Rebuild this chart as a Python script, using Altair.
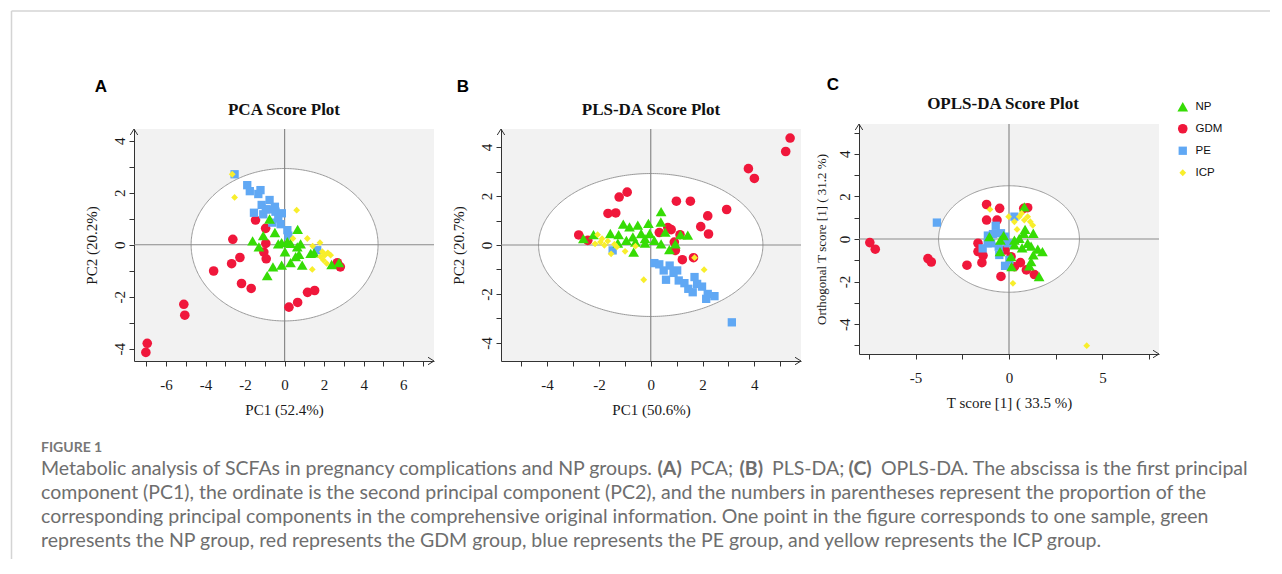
import altair as alt
import pandas as pd

# ---------------- groups ----------------
GROUPS = ["NP", "GDM", "PE", "ICP"]
GROUP_COLORS = ["#36dc05", "#f0173b", "#60a8f4", "#f8ee2b"]
GROUP_SHAPES = ["triangle-up", "circle", "square", "diamond"]
DRAW_ORDER = ["GDM", "PE", "NP", "ICP"]

# ---------------- Panel A: PCA scores ----------------
A_GDM_X = [-6.95, -7.02, -5.10, -5.05, -3.59, -2.68, -2.62, -2.26, -2.18, -1.69, -1.47, -0.96, -0.95, -1.05, -0.93, 0.22, 0.66, 1.16, 1.52, 2.67, 2.82]
A_GDM_Y = [-3.79, -4.14, -2.29, -2.71, -1.01, -0.73, 0.21, -0.49, -1.49, -1.68, 0.95, 0.63, 0.05, -0.28, -0.54, -2.40, -2.22, -1.83, -1.76, -0.69, -0.85]
A_PE_X = [-2.53, -1.89, -1.76, -1.22, -1.33, -1.55, -1.16, -0.76, -0.78, -0.46, -0.14, -1.08, -0.62, -0.32, -0.20, 0.14, 0.19, -0.49, 1.65, -0.95]
A_PE_Y = [2.71, 2.29, 2.06, 2.10, 1.95, 1.23, 1.53, 1.72, 1.36, 1.27, 1.21, 1.17, 0.85, 1.01, 0.79, 0.56, 0.35, 1.46, -0.21, 1.36]
A_NP_X = [-0.76, -1.08, -1.62, -1.30, -0.49, -0.32, 0.02, 0.14, -0.15, 0.66, 0.81, 0.64, 0.73, 0.30, 0.56, -0.59, -0.15, -0.88, 0.89, 1.32, 1.49, 2.38, 2.75, 0.30]
A_NP_Y = [0.99, 0.35, 0.15, -0.08, 0.47, 0.03, -0.27, 0.12, 0.08, 0.59, 0.03, -0.08, -0.37, -0.69, -0.46, -0.85, -0.78, -1.19, -0.78, -0.33, -0.31, -0.76, -0.69, 0.05]
A_ICP_X = [-2.65, -2.53, 0.61, 1.15, 1.79, 0.42, 1.42, 1.40, 1.91, 2.04, 2.19, 2.33, 1.96, 2.13, 1.82]
A_ICP_Y = [2.71, 1.82, 1.33, 0.24, 0.08, 0.24, -0.05, -0.95, -0.27, -0.40, -0.31, -0.40, -0.59, -0.72, -0.46]

# ---------------- Panel B: PLS-DA scores ----------------
B_GDM_X = [5.38, 5.21, 3.77, 4.00, -0.91, -1.22, -1.35, -1.65, -2.78, -2.43, 0.99, 1.53, 2.93, 2.20, 1.93, 2.23, 0.33, 0.66, 0.79, 1.13, 0.91, 0.95, 1.22, 1.65]
B_GDM_Y = [4.37, 3.82, 3.12, 2.72, 2.16, 1.96, 1.31, 1.29, 0.41, 0.19, 1.79, 1.79, 1.45, 1.19, 0.75, 0.45, 0.51, 0.71, 0.63, 0.42, 0.12, -0.22, -0.60, -0.52]
B_PE_X = [-1.47, 0.14, 0.33, 0.73, 0.50, 0.59, 1.02, 1.08, 1.30, 1.69, 1.79, 1.45, 1.62, 1.98, 2.20, 2.46, 2.14, 3.13, 0.88]
B_PE_Y = [-0.22, -0.74, -0.79, -0.84, -1.04, -1.42, -1.04, -1.45, -1.56, -1.31, -1.59, -1.79, -1.93, -1.70, -2.00, -2.09, -2.20, -3.16, -1.14]
B_NP_X = [-2.60, -2.21, -1.56, -1.24, -1.06, -0.82, -0.50, -0.09, -0.04, -0.22, -0.69, -0.94, -0.59, -0.22, 0.14, 0.40, 0.39, 0.56, 0.40, 0.72, 0.95, 1.15, 1.43, -0.66, -1.27, -0.37]
B_NP_Y = [0.26, 0.42, 0.47, 0.42, 0.85, 0.74, 0.81, 0.88, 0.47, 0.26, 0.33, 0.19, 0.12, 0.08, 0.19, 1.36, 0.94, 0.53, 0.05, -0.19, 0.05, 0.42, 0.40, -0.29, 0.08, 0.47]
B_ICP_X = [-2.05, -2.15, -1.94, -1.79, -1.66, -1.40, -1.53, -1.31, -0.99, -0.59, -0.27, 1.69, 2.06, -1.88]
B_ICP_Y = [0.42, 0.05, 0.12, -0.01, 0.16, 0.03, -0.36, -0.08, -0.26, -0.05, -1.42, -0.52, -1.01, 0.26]

# ---------------- Panel C: OPLS-DA scores ----------------
C_GDM_X = [-7.45, -7.16, -4.34, -4.16, -2.25, -1.66, -1.66, -1.39, -1.45, -1.20, -1.20, -0.50, -0.64, -0.43, 0.11, 0.29, 0.61, 0.93, 1.36, 0.79, 1.00, -0.21]
C_GDM_Y = [-0.17, -0.48, -0.92, -1.08, -1.23, -0.20, -0.59, -0.78, -1.11, 1.62, 0.89, 1.44, 0.89, -1.76, -0.83, -1.30, -1.11, -1.45, -1.67, 1.44, 1.47, -0.52]
C_PE_X = [-3.86, -0.71, -1.13, -0.86, -0.43, -0.21, -0.96, -1.41, -0.55, -0.07, -0.52, -0.21, 0.02, 0.29, -1.14]
C_PE_Y = [0.77, 0.62, 0.16, 0.23, 0.27, 0.11, -0.20, -0.44, -0.36, -0.20, -0.75, -1.26, -0.98, 1.05, -0.20]
C_NP_X = [-1.05, -0.46, -0.29, -0.48, 0.29, 0.55, 0.79, 0.86, 1.30, 0.70, 1.18, 1.54, 1.79, 1.30, 1.18, 1.09, 0.11, 0.14, 1.61, 0.82, 1.00, 0.29]
C_NP_Y = [0.11, -0.05, 0.16, -0.59, -0.28, 0.03, 0.27, 0.45, 0.27, -0.41, -0.33, -0.48, -0.59, -0.75, -1.06, -1.26, -0.83, -1.30, -1.76, 1.51, -0.20, -0.05]
C_ICP_X = [-1.02, -0.02, 0.29, 0.55, 0.82, 1.14, 1.27, 0.43, 0.68, 0.21, 4.16, 1.00]
C_ICP_Y = [1.39, 1.05, 0.81, 1.05, 0.89, 0.81, 0.64, 0.45, 1.20, -2.08, -5.01, 1.05]

# ---------------- axes / ellipses ----------------
A_XDOM, A_YDOM = [-7.62, 7.56], [-4.47, 4.45]
B_XDOM, B_YDOM = [-5.78, 5.80], [-4.74, 4.74]
C_XDOM, C_YDOM = [-8.03, 8.03], [-5.40, 5.40]
A_XTICKS, A_XLABELS = [-7, -6, -5, -4, -3, -2, -1, 0, 1, 2, 3, 4, 5, 6, 7], [-6, -4, -2, 0, 2, 4, 6]
A_YTICKS, A_YLABELS = [-4, -3, -2, -1, 0, 1, 2, 3, 4], [-4, -2, 0, 2, 4]
B_XTICKS, B_XLABELS = [-5, -4, -3, -2, -1, 0, 1, 2, 3, 4, 5], [-4, -2, 0, 2, 4]
B_YTICKS, B_YLABELS = [-4, -3, -2, -1, 0, 1, 2, 3, 4], [-4, -2, 0, 2, 4]
C_XTICKS, C_XLABELS = [-7.5, -5, -2.5, 0, 2.5, 5, 7.5], [-5, 0, 5]
C_YTICKS, C_YLABELS = [-5, -4, -3, -2, -1, 0, 1, 2, 3, 4, 5], [-4, -2, 0, 2, 4]
A_ELLIPSE = [4.73, 2.93]
B_ELLIPSE = [4.33, 2.92]
C_ELLIPSE = [3.77, 2.50]

CAPTION_LINES = [
    "component (PC1), the ordinate is the second principal component (PC2), and the numbers in parentheses represent the proportion of the",
    "corresponding principal components in the comprehensive original information. One point in the figure corresponds to one sample, green",
    "represents the NP group, red represents the GDM group, blue represents the PE group, and yellow represents the ICP group.",
]
CAPTION_FIRST = [
    ("Metabolic analysis of SCFAs in pregnancy complications and NP groups.", "normal", 0),
    ("(A)", "bold", 616.5),
    ("PCA;", "normal", 649),
    ("(B)", "bold", 698.5),
    ("PLS-DA;", "normal", 731),
    ("(C)", "bold", 807.5),
    ("OPLS-DA. The abscissa is the first principal", "normal", 840),
]

SERIF = "Liberation Serif"
SANS = "Liberation Sans"
CAP_FONT = "Lato"
INK = "#1a1a1a"
ONE = pd.DataFrame({"k": [0]})
ZERO = pd.DataFrame({"z": [0]})


def points_frame(pts):
    rows = []
    for g in DRAW_ORDER:
        xs, ys = pts[g]
        for x, y in zip(xs, ys):
            rows.append({"group": g, "x": x, "y": y})
    return pd.DataFrame(rows)


def txt(text, x, y, **kw):
    return alt.Chart(ONE).mark_text(**kw).encode(
        x=alt.value(x), y=alt.value(y), text=alt.value(text))


LEGEND = alt.Legend(orient="none", legendX=1043, legendY=-23, title=None,
                    labelFont=SANS, labelFontSize=11.5, labelColor="#111",
                    labelOffset=7, rowPadding=9, padding=0, symbolStrokeWidth=0)


def panel(df, w, h, xdom, ydom, xticks, xlabels, yticks, ylabels,
          xtitle, ytitle, ytsize, ytpad, ell, extras):
    xsc = alt.Scale(domain=xdom, nice=False, zero=False)
    ysc = alt.Scale(domain=ydom, nice=False, zero=False)
    xaxis = alt.Axis(values=xticks, title=xtitle,
                     labelExpr=f"indexof({xlabels}, datum.value) >= 0 ? toString(datum.value) : ''")
    yaxis = alt.Axis(values=yticks, title=ytitle, titleFontSize=ytsize, titlePadding=ytpad,
                     labelExpr=f"indexof({ylabels}, datum.value) >= 0 ? toString(datum.value) : ''")
    ea, eb = ell
    half = alt.Chart(alt.sequence(0, 181, 1, as_="deg")).transform_calculate(
        ex=f"{ea}*cos(datum.deg*PI/180)",
        ey=f"{eb}*sin(datum.deg*PI/180)",
        ey2=f"-{eb}*sin(datum.deg*PI/180)")
    fill = half.mark_area(color="white", opacity=1).encode(
        x=alt.X("ex:Q", scale=xsc, axis=xaxis),
        y=alt.Y("ey:Q", scale=ysc, axis=yaxis), y2="ey2:Q")
    full = alt.Chart(alt.sequence(0, 361, 1, as_="deg")).transform_calculate(
        ex=f"{ea}*cos(datum.deg*PI/180)",
        ey=f"{eb}*sin(datum.deg*PI/180)")
    outline = full.mark_line(color="#9a9a9a", strokeWidth=1).encode(
        x=alt.X("ex:Q", scale=xsc, axis=xaxis),
        y=alt.Y("ey:Q", scale=ysc, axis=yaxis), order="deg:Q")
    vline = alt.Chart(ZERO).mark_rule(color="#8a8a8a", strokeWidth=1.2).encode(
        x=alt.X("z:Q", scale=xsc, axis=xaxis))
    hline = alt.Chart(ZERO).mark_rule(color="#8a8a8a", strokeWidth=1.2).encode(
        y=alt.Y("z:Q", scale=ysc, axis=yaxis))
    pts = alt.Chart(df).mark_point(filled=True, opacity=1, strokeWidth=0).encode(
        x=alt.X("x:Q", scale=xsc, axis=xaxis),
        y=alt.Y("y:Q", scale=ysc, axis=yaxis),
        color=alt.Color("group:N", scale=alt.Scale(domain=GROUPS, range=GROUP_COLORS), legend=LEGEND),
        shape=alt.Shape("group:N", scale=alt.Scale(domain=GROUPS, range=GROUP_SHAPES), legend=LEGEND),
        size=alt.Size("group:N", scale=alt.Scale(type="point", domain=GROUPS, range=[115, 46], padding=0), legend=LEGEND),
    )
    xarrow = alt.Chart(ONE).mark_point(shape="M-1,-0.62L0,0L-1,0.62", size=144, filled=False,
                                        color="#333", strokeWidth=1, opacity=1).encode(
        x=alt.value(w), y=alt.value(h))
    yarrow = alt.Chart(ONE).mark_point(shape="M-0.62,1L0,0L0.62,1", size=144, filled=False,
                                        color="#333", strokeWidth=1, opacity=1).encode(
        x=alt.value(0), y=alt.value(0))
    layers = [fill, outline, vline, hline, pts, xarrow, yarrow] + extras
    return alt.layer(*layers).properties(width=w, height=h,
                                         view=alt.ViewBackground(fill="#f2f2f2", strokeWidth=0))


df_a = points_frame({"NP": (A_NP_X, A_NP_Y), "GDM": (A_GDM_X, A_GDM_Y), "PE": (A_PE_X, A_PE_Y), "ICP": (A_ICP_X, A_ICP_Y)})
df_b = points_frame({"NP": (B_NP_X, B_NP_Y), "GDM": (B_GDM_X, B_GDM_Y), "PE": (B_PE_X, B_PE_Y), "ICP": (B_ICP_X, B_ICP_Y)})
df_c = points_frame({"NP": (C_NP_X, C_NP_Y), "GDM": (C_GDM_X, C_GDM_Y), "PE": (C_PE_X, C_PE_Y), "ICP": (C_ICP_X, C_ICP_Y)})

title_kw = dict(font=SERIF, fontSize=17, fontWeight="bold", color="#111", align="center", baseline="alphabetic")
letter_kw = dict(font=SANS, fontSize=17, fontWeight="bold", color="#000", align="center", baseline="alphabetic")
cap_kw = dict(font=CAP_FONT, fontSize=19.5, color="#6e6e6e", align="left", baseline="alphabetic")

# decorations living in panel A coordinates (origin = plot A top-left)
deco = [
    alt.Chart(ONE).mark_rule(color="#d4d4d4", strokeWidth=1.5).encode(
        x=alt.value(-122.5), x2=alt.value(1136), y=alt.value(-118)),
    alt.Chart(ONE).mark_rule(color="#d4d4d4", strokeWidth=1.5).encode(
        x=alt.value(-122.5), y=alt.value(-118), y2=alt.value(430)),
    txt("FIGURE 1", -93, 323, font=CAP_FONT, fontSize=14, fontWeight="bold", color="#777", align="left", baseline="alphabetic"),
]
for seg, wt, dx in CAPTION_FIRST:
    deco.append(txt(seg, -93 + dx, 346, fontWeight=wt, **cap_kw))
for i, line in enumerate(CAPTION_LINES):
    deco.append(txt(line, -93, 370 + 24 * i, **cap_kw))

panel_a = panel(df_a, 300, 232, A_XDOM, A_YDOM, A_XTICKS, A_XLABELS, A_YTICKS, A_YLABELS,
                "PC1 (52.4%)", "PC2 (20.2%)", 15, 13, A_ELLIPSE,
                [txt("PCA Score Plot", 150, -14, **title_kw), txt("A", -33, -37, **letter_kw)] + deco)
panel_b = panel(df_b, 300, 232, B_XDOM, B_YDOM, B_XTICKS, B_XLABELS, B_YTICKS, B_YLABELS,
                "PC1 (50.6%)", "PC2 (20.7%)", 15, 13, B_ELLIPSE,
                [txt("PLS-DA Score Plot", 150, -14, **title_kw), txt("B", -38, -37, **letter_kw)])
panel_c = panel(df_c, 300, 230, C_XDOM, C_YDOM, C_XTICKS, C_XLABELS, C_YTICKS, C_YLABELS,
                "T score [1] ( 33.5 %)", "Orthogonal T score [1] ( 31.2 %)", 13, 9, C_ELLIPSE,
                [txt("OPLS-DA Score Plot", 144, -15, **title_kw), txt("C", -26, -34, **letter_kw)])


def spacer(w):
    return alt.Chart(ONE).mark_point(opacity=0).encode(
        x=alt.value(0), y=alt.value(0)).properties(width=w, height=1)


# row 1 holds panel C (its plot sits 5 px higher), row 2 holds panels A and B
row_c = alt.hconcat(spacer(725), panel_c, spacing=0, bounds="flush")
row_ab = alt.hconcat(panel_a, panel_b, spacing=67, bounds="flush")
chart = alt.vconcat(row_c, row_ab, spacing=5, bounds="flush").properties(
    padding={"left": 2, "top": 2, "right": 0, "bottom": 0}
).configure_view(strokeWidth=0).configure_axis(
    grid=False, domainColor="#333", domainWidth=1, tickColor="#333", tickWidth=1, tickSize=5,
    labelFont=SERIF, labelFontSize=15, labelColor=INK, titleFont=SERIF, titleFontSize=15,
    titleFontWeight="normal", titleColor=INK, labelOverlap=False, labelFlush=False
).configure_axisX(labelPadding=11, titlePadding=10).configure_axisY(
    labelAngle=270, labelAlign="center", labelBaseline="bottom", labelPadding=2
)

chart.save("out.html", embed_options={"renderer": "svg", "actions": False})
